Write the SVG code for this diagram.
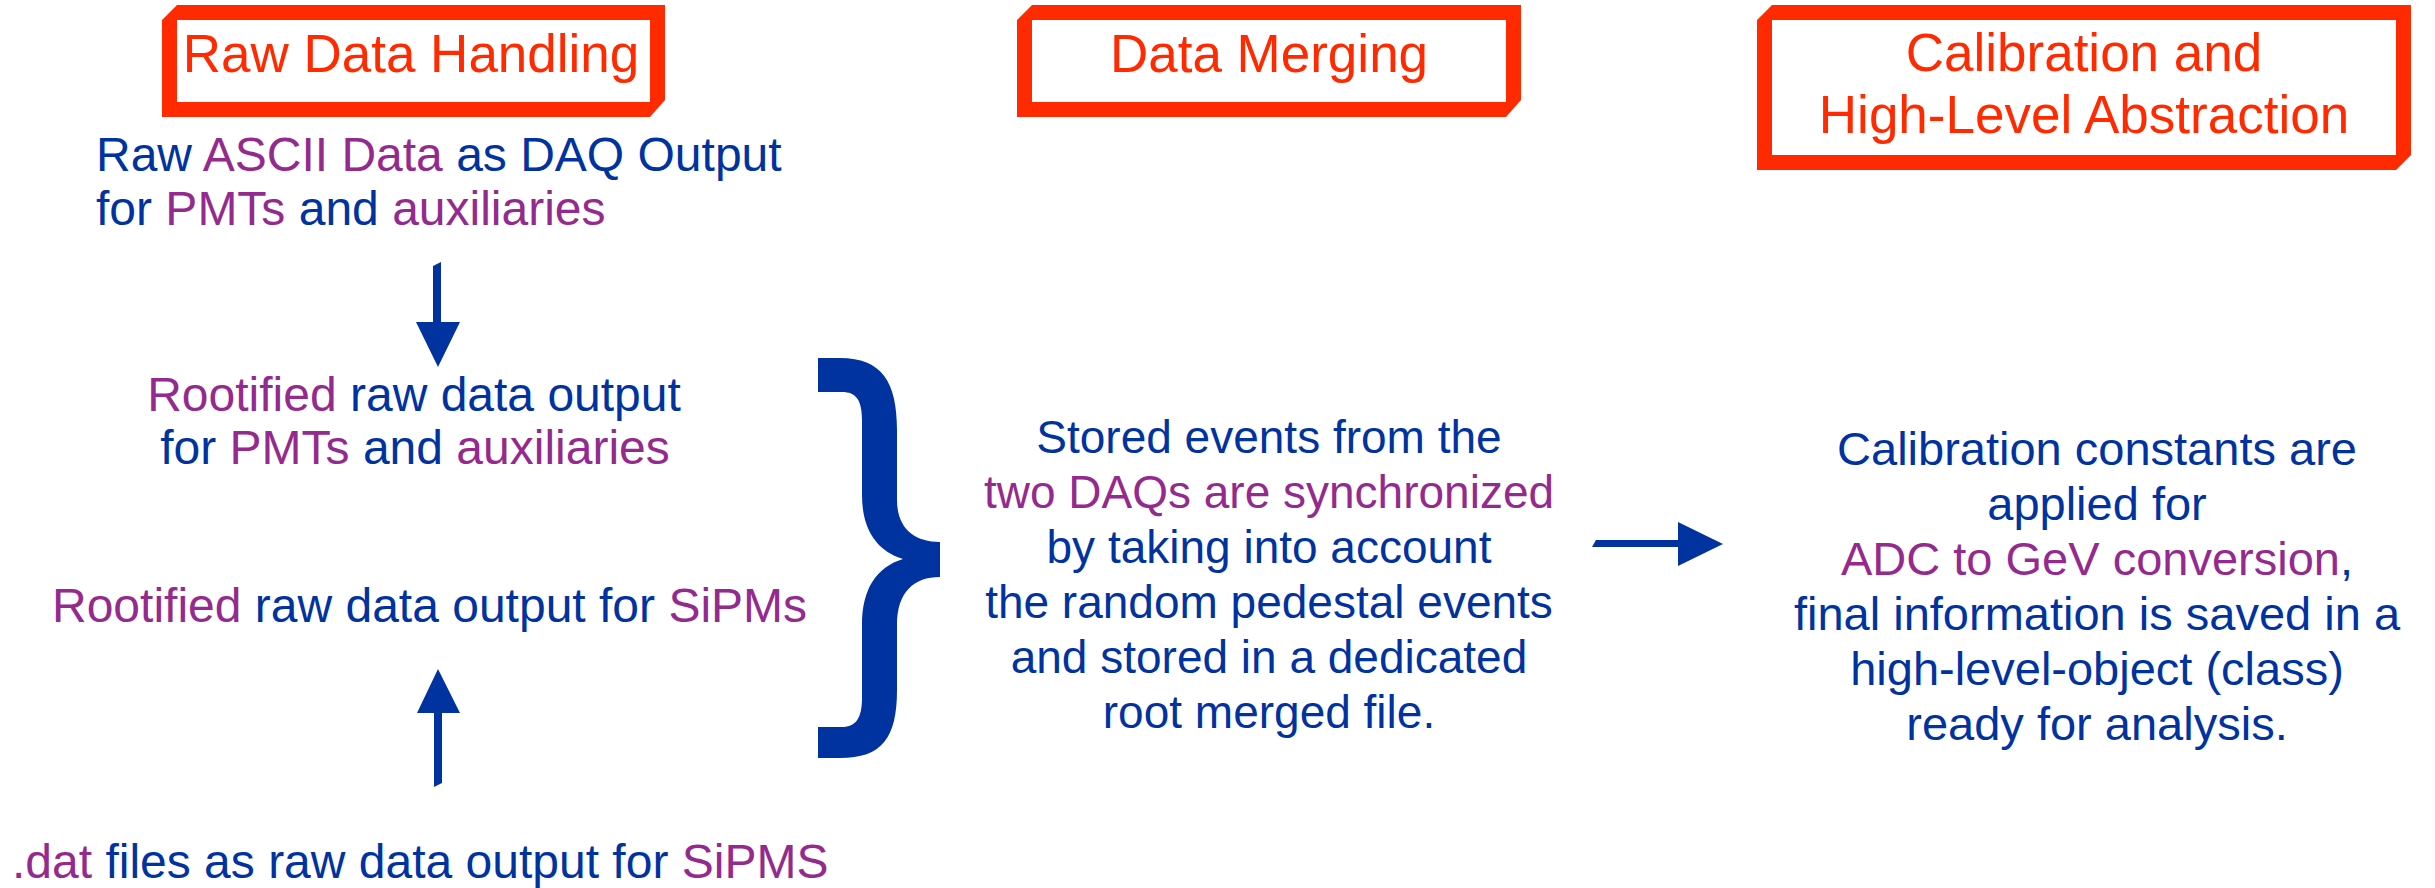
<svg xmlns="http://www.w3.org/2000/svg" width="2435" height="888" viewBox="0 0 2435 888">
<style>
text{font-family:"Liberation Sans",Arial,Helvetica,sans-serif}
.title{font-size:53px;fill:#FF2A00;text-anchor:middle}
.frame{fill:#FF2A00;fill-rule:evenodd}
.b{fill:#0033A0}
.p{fill:#952A8E}
.t48{font-size:48px}
.t46{font-size:46px}
.t47{font-size:47px}
.c{text-anchor:middle}
.arrow{fill:#0033A0}
</style>
<rect width="2435" height="888" fill="#ffffff"/>

<g id="title-raw">
<path class="frame" d="M162 20 L177 5 L665 5 L665 100 L650 117 L162 117 Z M177 20 L177 102 L650 102 L650 20 Z"/>
<text class="title" x="411" y="72">Raw Data Handling</text>
</g>

<g id="title-merge">
<path class="frame" d="M1017 20 L1032 5 L1521 5 L1521 100 L1506 117 L1017 117 Z M1032 20 L1032 102 L1506 102 L1506 20 Z"/>
<text class="title" x="1269" y="72">Data Merging</text>
</g>

<g id="title-calib">
<path class="frame" d="M1757 20 L1772 5 L2411 5 L2411 155 L2396 170 L1757 170 Z M1772 20 L1772 155 L2396 155 L2396 20 Z"/>
<text class="title" x="2084" y="71">Calibration and</text>
<text class="title" x="2084" y="133">High-Level Abstraction</text>
</g>

<g id="node-ascii">
<text class="t48 b" x="96" y="171">Raw <tspan class="p">ASCII Data</tspan> as DAQ Output</text>
<text class="t48 b" x="96" y="225">for <tspan class="p">PMTs</tspan> and <tspan class="p">auxiliaries</tspan></text>
</g>

<g id="node-rootified-pmt">
<text class="t48 b c" x="414" y="411"><tspan class="p">Rootified</tspan> raw data output</text>
<text class="t48 b c" x="415" y="464">for <tspan class="p">PMTs</tspan> and <tspan class="p">auxiliaries</tspan></text>
</g>

<g id="node-rootified-sipm">
<text class="t48 b" x="52" y="622"><tspan class="p">Rootified</tspan> raw data output for <tspan class="p">SiPMs</tspan></text>
</g>

<g id="node-dat">
<text class="t48 b" x="12" y="878"><tspan class="p">.dat</tspan> files as raw data output for <tspan class="p">SiPMS</tspan></text>
</g>

<g id="node-merge">
<text class="t46 b c" x="1269" y="453">Stored events from the</text>
<text class="t46 p c" x="1269" y="508">two DAQs are synchronized</text>
<text class="t46 b c" x="1269" y="563">by taking into account</text>
<text class="t46 b c" x="1269" y="618">the random pedestal events</text>
<text class="t46 b c" x="1269" y="673">and stored in a dedicated</text>
<text class="t46 b c" x="1269" y="728">root merged file.</text>
</g>

<g id="node-calib">
<text class="t47 b c" x="2097" y="465">Calibration constants are</text>
<text class="t47 b c" x="2097" y="520">applied for</text>
<text class="t47 b c" x="2097" y="575"><tspan class="p">ADC to GeV conversion</tspan>,</text>
<text class="t47 b c" x="2097" y="630">final information is saved in a</text>
<text class="t47 b c" x="2097" y="685">high-level-object (class)</text>
<text class="t47 b c" x="2097" y="740">ready for analysis.</text>
</g>

<g id="brace">
<path class="arrow" d="M818 358 L840 358 C882 358 897 382 897 430 L897 500 C897 528 914 542 940 542 L940 577 C914 577 897 592 897 625 L897 690 C897 738 882 758 840 758 L818 758 L818 727 L842 727 C856 727 862 718 862 698 L862 625 C862 588 877 567 903 559 C877 551 862 530 862 495 L862 420 C862 400 856 392 842 392 L818 392 Z"/>
</g>

<g id="connectors">
<path class="arrow" d="M433 266 L441 262 L441 322 L460 322 L438 367 L416 322 L433 322 Z"/>
<path class="arrow" d="M434 787 L434 713 L417 713 L438 669 L460 713 L442 713 L442 783 Z"/>
<path class="arrow" d="M1596 540 L1678 540 L1678 522 L1723 544 L1678 566 L1678 547 L1592 547 Z"/>
</g>
</svg>
